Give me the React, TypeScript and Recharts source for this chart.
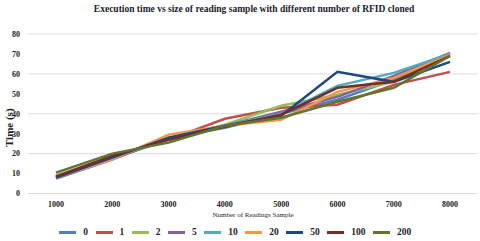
import React from 'react';
import { LineChart, Line, XAxis, YAxis, CartesianGrid, Legend, Label } from 'recharts';

const samples = ['1000', '2000', '3000', '4000', '5000', '6000', '7000', '8000'];

const cloned0 = [7.5, 17, 28, 33, 40, 47, 57, 70];
const cloned1 = [8, 17.5, 27, 37.5, 43, 44.5, 54.5, 61];
const cloned2 = [9, 18.5, 27, 34.5, 44, 49.5, 56, 70];
const cloned5 = [8.5, 18, 27, 34, 41, 48.5, 59, 70.5];
const cloned10 = [8.5, 18, 27, 34, 40, 54, 60.5, 70];
const cloned20 = [8, 17, 29.5, 34, 37, 51, 58, 69.5];
const cloned50 = [8, 18, 28, 34, 39, 61, 56, 66];
const cloned100 = [8.5, 19, 27, 33.5, 39.5, 53, 56, 69];
const cloned200 = [10.5, 20, 25.5, 34, 38, 46, 53, 69];

const yTicks = [0, 10, 20, 30, 40, 50, 60, 70, 80];

const series = [
  { key: '0', values: cloned0, color: '#4F81BD' },
  { key: '1', values: cloned1, color: '#C0504D' },
  { key: '2', values: cloned2, color: '#9BBB59' },
  { key: '5', values: cloned5, color: '#8064A2' },
  { key: '10', values: cloned10, color: '#4BACC6' },
  { key: '20', values: cloned20, color: '#F79646' },
  { key: '50', values: cloned50, color: '#1F497D' },
  { key: '100', values: cloned100, color: '#772C2A' },
  { key: '200', values: cloned200, color: '#5F7530' },
];

const chartData = samples.map((s, i) => {
  const row: any = { sample: s };
  series.forEach(ser => { row[ser.key] = ser.values[i]; });
  return row;
});

const font = '"Liberation Serif", "DejaVu Serif", serif';

const legendContent = () => (
  <div style={{ display: 'flex', justifyContent: 'center', alignItems: 'center', fontFamily: font, fontWeight: 'bold', fontSize: 9.5, color: '#222', paddingLeft: 0 }}>
    {series.map(s => (
      <div key={s.key} style={{ display: 'flex', alignItems: 'center', marginRight: 7.5 }}>
        <span style={{ display: 'inline-block', width: 17, height: 3, background: s.color, marginRight: 7 }} />
        <span>{s.key}</span>
      </div>
    ))}
  </div>
);

export default function App() {
  return (
    <div style={{ position: 'absolute', left: 0, top: 0, width: 480, height: 241, background: '#fff' }}>
      <div style={{ position: 'absolute', top: 4, left: 0, width: 508, textAlign: 'center', fontFamily: font, fontWeight: 'bold', fontSize: 9.5, color: '#1a1a2e' }}>
        Execution time vs size of reading sample with different number of RFID cloned
      </div>
      <LineChart width={480} height={241} data={chartData} margin={{ top: 34, right: 2, bottom: 2, left: 0 }}>
        <CartesianGrid vertical={false} stroke="#dcdcdc" />
        <XAxis
          dataKey="sample"
          axisLine={{ stroke: '#dcdcdc' }}
          tickLine={false}
          padding={{ left: 28, right: 28 }}
          tick={{ fontFamily: font, fontWeight: 'bold', fontSize: 8, fill: '#222' }}
          tickMargin={2}
          height={33.5}
        >
          <Label value="Number of Readings Sample" position="insideBottom" offset={10} style={{ fontFamily: font, fontSize: 7, fill: '#222' }} />
        </XAxis>
        <YAxis
          domain={[0, 80]}
          ticks={yTicks}
          axisLine={false}
          tickLine={false}
          width={28}
          tickMargin={2}
          tick={{ fontFamily: font, fontWeight: 'bold', fontSize: 8, fill: '#222' }}
        >
          <Label value="Time (s)" angle={-90} position="insideLeft" offset={9} dy={14} style={{ fontFamily: font, fontWeight: 'bold', fontSize: 11, fill: '#222', textAnchor: 'middle' }} />
        </YAxis>
        <Legend verticalAlign="bottom" height={12} content={legendContent} />
        {series.map(s => (
          <Line key={s.key} type="linear" dataKey={s.key} stroke={s.color} strokeWidth={2.5} dot={false} isAnimationActive={false} />
        ))}
      </LineChart>
    </div>
  );
}
